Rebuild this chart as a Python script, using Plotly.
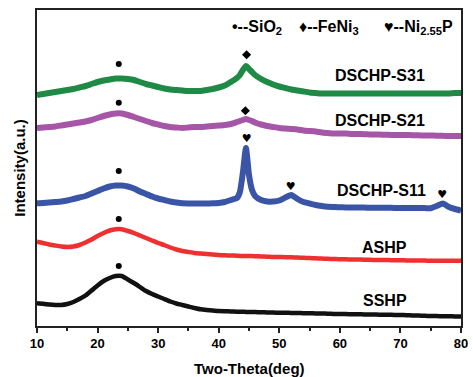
import plotly.graph_objects as go

# 2-theta grid (deg); extra half-degree steps around the 44.5 deg reflection
two_theta = [10, 11, 12, 13, 14, 15, 16, 17, 18, 19, 20, 21, 22, 23, 24, 25, 26, 27, 28, 29,
             30, 31, 32, 33, 34, 35, 36, 37, 38, 39, 40, 41, 42, 43, 43.5, 44, 44.5, 45, 45.5,
             46, 47, 48, 49, 50, 51, 52, 53, 54, 55, 56, 57, 58, 59, 60, 61, 62, 63, 64, 65,
             66, 67, 68, 69, 70, 71, 72, 73, 74, 75, 76, 77, 78, 79, 80]

# Stacked intensities (a.u., offset per sample)
dschp_s31 = [231, 232, 233, 234, 235, 236, 237, 238.5, 240, 242, 244, 245.5, 246.5, 247.5, 247.5,
             247, 246, 244, 242, 240.5, 239, 237.5, 236.5, 236, 235.5, 235, 235, 235, 236, 237,
             238.5, 240.5, 244, 248, 251, 256, 260, 257, 254, 251, 247, 244, 241.5, 239.5, 238,
             236.5, 235.5, 234.5, 233.5, 233, 232.5, 232.5, 232.5, 232.5, 232.5, 232.5, 232.5,
             232.5, 232.5, 232.5, 232.5, 232.5, 232.5, 232.5, 232.5, 232.5, 232.5, 232.5, 232.5,
             232.5, 232.5, 232.5, 233, 233]

dschp_s21 = [198, 198.5, 199, 199.5, 200.5, 201.5, 202.5, 203.5, 204.5, 206, 208, 210, 211.5, 212.5,
             212.5, 211, 209, 207, 205, 203, 201.5, 200, 199, 198.5, 198, 198.5, 199, 199, 199.5,
             200, 200.5, 201, 202, 204, 205, 206, 207, 206, 205, 203.5, 201.5, 200, 199, 198,
             197.5, 197, 196.5, 195.5, 195, 194.5, 193.5, 193, 192.5, 192.5, 192.5, 192, 192,
             191.8, 191.5, 191.5, 191.3, 191.2, 191, 191, 191, 190.8, 190.7, 190.5, 190.5, 190.3,
             190.2, 190, 190, 190]

dschp_s11 = [122.7, 123, 123.5, 124, 124.5, 125.5, 127, 128.5, 130, 132.5, 135, 137.5, 139.5, 140.5,
             140.5, 139.5, 137.5, 134.5, 132, 129.5, 127.5, 126, 124.5, 123.5, 122.7, 122.5, 122.5,
             122.5, 122.5, 122.7, 123, 124, 126, 128, 134, 154, 178, 151, 136, 130, 126, 124.5,
             124.5, 125.5, 128.5, 131, 127, 124, 122.5, 121, 120, 119.3, 119, 118.7, 118.6, 118.5,
             118.5, 118.4, 118.3, 118.3, 118.2, 118.2, 118.1, 118, 118, 118, 117.9, 117.9, 117.8,
             120, 122.5, 119, 117, 115.5]

ashp = [84.3, 83, 81.5, 80.5, 79.5, 79, 79.5, 81, 83.5, 86.5, 90, 93, 95.5, 96.7, 96.7, 95, 93,
        90.5, 88, 85.5, 83, 81, 78.5, 76.5, 75, 74, 73, 72.5, 72, 71.5, 71, 70.7, 70.5, 70.3,
        70.1, 70, 70, 70, 69.9, 69.8, 69.5, 69.3, 69, 69, 68.8, 68.7, 68.5, 68.2, 68, 67.7,
        67.5, 67.2, 67, 66.7, 66.7, 66.5, 66.5, 66.3, 66.2, 66, 66, 65.9, 65.8, 65.7, 65.6,
        65.5, 65.5, 65.4, 65.3, 65.3, 65.3, 65.2, 65.2, 65.3]

sshp = [22.7, 22.2, 21.5, 21, 21, 22, 24, 27, 30.5, 35.5, 40.5, 45, 48, 50, 50, 46.5, 43, 39, 35,
        32, 29.5, 27, 24.5, 22.5, 21, 19.5, 18, 16.7, 16, 15.5, 15, 14.8, 14.6, 14.3, 14.2, 14.2,
        14.1, 14, 14, 13.9, 13.8, 13.6, 13.4, 13.3, 13.2, 13.1, 13, 12.8, 12.7, 12.6, 12.5, 12.3,
        12.1, 12, 11.9, 11.8, 11.7, 11.6, 11.5, 11.4, 11.3, 11.2, 11.1, 11, 10.8, 10.6, 10.4,
        10.2, 10, 9.9, 9.8, 9.7, 9.6, 9.5]

sample_names = ["DSCHP-S31", "DSCHP-S21", "DSCHP-S11", "ASHP", "SSHP"]
sample_colors = ["#1f8a45", "#a656a6", "#3b55a6", "#ee3030", "#111111"]
sample_widths = [6, 6, 6, 4.5, 4.5]
series = [dschp_s31, dschp_s21, dschp_s11, ashp, sshp]

# Sample label anchors (2-theta, intensity)
label_x = [66.7, 66.7, 66.9, 67.4, 67.4]
label_y = [251, 206, 135.3, 79, 26]

# Phase markers: SiO2 (dot), FeNi3 (diamond), Ni2.55P (heart)
sio2_x = [23.5, 23.5, 23.5, 23.5, 23.5]
sio2_y = [262, 223.3, 155, 107, 60]
feni3_x = [44.6, 44.4]
feni3_y = [271.3, 215.3]
ni2p_x = [44.6, 51.9, 76.9]
ni2p_y = [187, 138.7, 131]

FONT = "Liberation Sans, Arial, sans-serif"

fig = go.Figure()

for name, ys, col, w in zip(sample_names, series, sample_colors, sample_widths):
    fig.add_trace(go.Scatter(x=two_theta, y=ys, mode="lines", name=name,
                             line=dict(color=col, width=w, shape="spline", smoothing=0.5)))

fig.add_trace(go.Scatter(x=sio2_x, y=sio2_y, mode="markers",
                         marker=dict(symbol="circle", size=6, color="black")))
fig.add_trace(go.Scatter(x=feni3_x, y=feni3_y, mode="markers",
                         marker=dict(symbol="diamond", size=7, color="black")))
fig.add_trace(go.Scatter(x=ni2p_x, y=ni2p_y, mode="text", text=["♥"] * len(ni2p_x),
                         textfont=dict(size=11, color="black", family="DejaVu Sans")))

for name, lx, ly in zip(sample_names, label_x, label_y):
    fig.add_annotation(x=lx, y=ly, text="<b>" + name + "</b>", showarrow=False,
                       xanchor="center", yanchor="middle",
                       font=dict(family=FONT, size=16, color="black"))

# Phase key along the top
key_items = [(41.8, "<b>•--SiO<sub>2</sub></b>"), (53.0, "<b>♦--FeNi<sub>3</sub></b>"),
             (67.0, "<b>♥--Ni<sub>2.55</sub>P</b>")]
for kx, txt in key_items:
    fig.add_annotation(x=kx, y=299, text=txt, showarrow=False, xanchor="left",
                       yanchor="middle",
                       font=dict(family=FONT, size=16, color="black"))

# x-axis title placed below the tick labels
fig.add_annotation(x=0.5, y=-0.133, xref="paper", yref="paper", text="<b>Two-Theta(deg)</b>",
                   showarrow=False, xanchor="center", yanchor="middle",
                   font=dict(family=FONT, size=15, color="black"))

fig.update_layout(
    width=473, height=377,
    margin=dict(l=37, r=5, t=10, b=51),
    paper_bgcolor="white", plot_bgcolor="white",
    showlegend=False,
    xaxis=dict(range=[10, 80], dtick=10, tick0=10, ticks="outside", ticklen=5, tickwidth=1.5,
               tickcolor="#222", showline=True, linecolor="#222", linewidth=1.5, mirror=True,
               showgrid=False, zeroline=False, ticklabeloverflow="allow",
               minor=dict(ticks="outside", dtick=5, ticklen=3, tickwidth=1.5, tickcolor="#222"),
               tickprefix="<b>", ticksuffix="</b>",
               tickfont=dict(family=FONT, size=13, color="black")),
    yaxis=dict(range=[0, 316], showticklabels=False, ticks="", showline=True, linecolor="#222",
               linewidth=1.5, mirror=True, showgrid=False, zeroline=False,
               title=dict(text="<b>Intensity(a.u.)</b>", standoff=6,
                          font=dict(family=FONT, size=15, color="black"))),
)

fig.write_html("out.html")
